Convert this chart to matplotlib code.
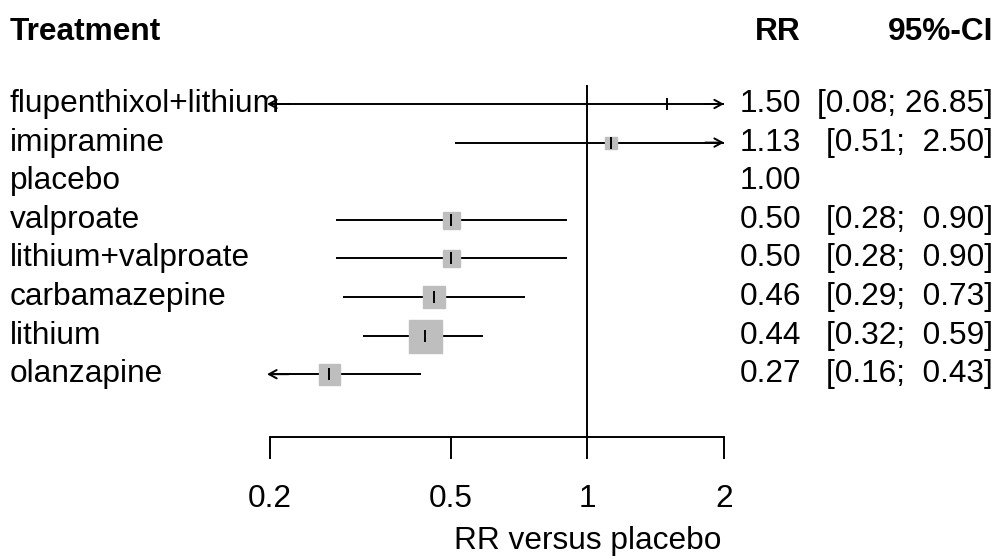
import numpy as np
import matplotlib
matplotlib.use('Agg')
import matplotlib.pyplot as plt

plt.rcParams['font.family'] = ['Liberation Sans', 'DejaVu Sans']

treatments = ['flupenthixol+lithium', 'imipramine', 'placebo', 'valproate',
              'lithium+valproate', 'carbamazepine', 'lithium', 'olanzapine']
rr = [1.50, 1.13, 1.00, 0.50, 0.50, 0.46, 0.44, 0.27]
lower = [0.08, 0.51, np.nan, 0.28, 0.28, 0.29, 0.32, 0.16]
upper = [26.85, 2.50, np.nan, 0.90, 0.90, 0.73, 0.59, 0.43]
ci_text = ['[0.08; 26.85]', '[0.51;  2.50]', '', '[0.28;  0.90]', '[0.28;  0.90]',
           '[0.29;  0.73]', '[0.32;  0.59]', '[0.16;  0.43]']
weight = [0, 12, 0, 17, 17, 22, 33, 21]  # box width, px
xticks = [0.2, 0.5, 1, 2]

W, H = 1002, 559
fig = plt.figure(figsize=(W / 100, H / 100), dpi=100)

# forest panel: x 0.2..2 spans px 270..724, y spans px 85..437
left, right, top, bottom = 270, 724, 85, 437
ax = fig.add_axes([left / W, 1 - bottom / H, (right - left) / W, (bottom - top) / H])
ax.set_xscale('log')
ax.set_xlim(0.2, 2)
row0, step = 104, 38.6
ax.set_ylim((bottom - row0) / step, (top - row0) / step)

fs = 22.8     # all text
lw = 1.4
xmin, xmax = 0.2, 2

for i, t in enumerate(treatments):
    if np.isnan(lower[i]):
        continue
    lo = max(lower[i], xmin)
    hi = min(upper[i], xmax)
    ax.plot([lo, hi], [i, i], color='black', lw=lw, solid_capstyle='butt', zorder=2)
    if lower[i] < xmin:
        ax.annotate('', xy=(xmin * 0.985, i), xytext=(xmin * 1.1, i),
                    arrowprops=dict(arrowstyle='->,head_length=0.55,head_width=0.3',
                                    color='black', lw=lw, shrinkA=0, shrinkB=0),
                    annotation_clip=False, zorder=3)
    if upper[i] > xmax:
        ax.annotate('', xy=(xmax, i), xytext=(xmax / 1.1, i),
                    arrowprops=dict(arrowstyle='->,head_length=0.55,head_width=0.3',
                                    color='black', lw=lw, shrinkA=0, shrinkB=0),
                    annotation_clip=False, zorder=3)
    if weight[i] > 0:
        ax.plot(rr[i], i, marker='s', ms=weight[i] * 0.72, color='#bebebe',
                mec='#bebebe', zorder=3)
    ax.plot(rr[i], i, marker='|', ms=8, mew=1.4, color='black', zorder=4)

# reference line at 1
ax.axvline(1, color='black', lw=lw, zorder=1)

for s in ['top', 'right', 'left']:
    ax.spines[s].set_visible(False)
ax.spines['bottom'].set_linewidth(lw)
ax.set_yticks([])
ax.set_xticks(xticks)
ax.set_xticklabels(['0.2', '0.5', '1', '2'])
ax.minorticks_off()
ax.tick_params(axis='x', direction='out', length=16, width=lw, labelsize=fs, pad=18)
ax.patch.set_visible(False)

# text columns in figure pixels
def ftext(x, y, s, va='center', **kw):
    fig.text(x / W, 1 - y / H, s, fontsize=fs, va=va, **kw)

ftext(10, 32, 'Treatment', ha='left', fontweight='bold')
ftext(801, 32, 'RR', ha='right', fontweight='bold')
ftext(993, 32, '95%-CI', ha='right', fontweight='bold')

for i, t in enumerate(treatments):
    y = row0 + step * i
    ftext(10, y, t, ha='left')
    ftext(801, y, f'{rr[i]:.2f}', ha='right')
    if ci_text[i]:
        ftext(993, y, ci_text[i], ha='right')

ftext(588, 549, 'RR versus placebo', va='baseline', ha='center')

fig.savefig('out.png', dpi=100)
